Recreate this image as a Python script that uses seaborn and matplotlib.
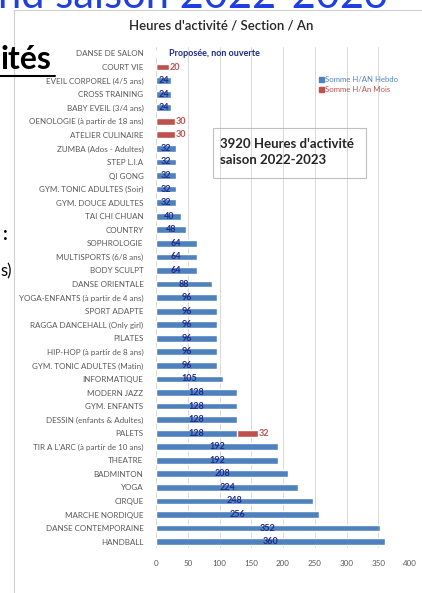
import numpy as np
import pandas as pd
import seaborn as sns
import matplotlib.pyplot as plt
from matplotlib.patches import Patch, Rectangle

# ----------------------------------------
# Data: hours of activity per section per year
# ----------------------------------------
sections = [
    "DANSE DE SALON", "COURT VIE", "EVEIL CORPOREL (4/5 ans)", "CROSS TRAINING",
    "BABY EVEIL (3/4 ans)", "OENOLOGIE (à partir de 18 ans)", "ATELIER CULINAIRE",
    "ZUMBA (Ados - Adultes)", "STEP L.I.A", "QI GONG", "GYM. TONIC ADULTES (Soir)",
    "GYM. DOUCE ADULTES", "TAI CHI CHUAN", "COUNTRY", "SOPHROLOGIE",
    "MULTISPORTS (6/8 ans)", "BODY SCULPT", "DANSE ORIENTALE",
    "YOGA-ENFANTS (à partir de 4 ans)", "SPORT ADAPTE", "RAGGA DANCEHALL (Only girl)",
    "PILATES", "HIP-HOP (à partir de 8 ans)", "GYM. TONIC ADULTES (Matin)",
    "INFORMATIQUE", "MODERN JAZZ", "GYM. ENFANTS", "DESSIN (enfants & Adultes)",
    "PALETS", "TIR A L'ARC (à partir de 10 ans)", "THEATRE", "BADMINTON", "YOGA",
    "CIRQUE", "MARCHE NORDIQUE", "DANSE CONTEMPORAINE", "HANDBALL",
]
hebdo = [0, 0, 24, 24, 24, 0, 0, 32, 32, 32, 32, 32, 40, 48, 64, 64, 64, 88,
         96, 96, 96, 96, 96, 96, 105, 128, 128, 128, 128, 192, 192, 208, 224,
         248, 256, 352, 360]
mois = [0, 20, 0, 0, 0, 30, 30, 0, 0, 0, 0, 0, 0, 0, 0, 0, 0, 0,
        0, 0, 0, 0, 0, 0, 0, 0, 0, 0, 32, 0, 0, 0, 0,
        0, 0, 0, 0]
x_ticks = [0, 50, 100, 150, 200, 250, 300, 350, 400]

df = pd.DataFrame({"section": sections, "hebdo": hebdo, "mois": mois})
df["total"] = df["hebdo"] + df["mois"]

BLUE = "#4F81BD"
RED = "#C0504D"
NAVY = "#1F2A8C"
GREY = "#595959"

sns.set_theme(style="white")
plt.rcParams["font.family"] = ["Lato", "DejaVu Sans"]

W, H = 422, 593
fig = plt.figure(figsize=(W / 100, H / 100), dpi=100)


def fx(x):
    return x / W


def fy(y):
    return 1 - y / H


# chart frame
fig.patches.append(Rectangle((fx(14), fy(600)), fx(430) - fx(14), fy(10) - fy(600),
                             transform=fig.transFigure, fill=False,
                             edgecolor="#D0D0D0", linewidth=0.8))

# axes placement
row = 13.56
top = 53.5 - row / 2
bottom = top + row * len(sections)
ax = fig.add_axes([fx(156), fy(bottom), (410 - 156) / W, (bottom - top) / H])

# stacked bars: total in red first, then blue on top
sns.barplot(data=df, x="total", y="section", color=RED, orient="h",
            width=0.5, saturation=1, ax=ax)
sns.barplot(data=df, x="hebdo", y="section", color=BLUE, orient="h",
            width=0.5, saturation=1, ax=ax)

# value labels
blue_labels = [str(v) if v > 0 else "" for v in hebdo]
ax.bar_label(ax.containers[1], labels=blue_labels, label_type="center",
             fontsize=6.5, fontweight="bold", color=NAVY)
red_labels = [str(m) if m > 0 else "" for m in mois]
ax.bar_label(ax.containers[0], labels=red_labels, label_type="edge", padding=0.5,
             fontsize=6.5, fontweight="bold", color=RED)

ax.text(21, 0, "Proposée, non ouverte", fontsize=6.5, fontweight="bold",
        color=NAVY, va="center", ha="left")

ax.set_xlim(0, 400)
ax.set_ylim(len(sections) - 0.5, -0.5)
ax.set_xticks(x_ticks)
ax.set_xlabel("")
ax.set_ylabel("")
ax.grid(axis="x", color="#D9D9D9", linewidth=0.7)
ax.set_axisbelow(True)
for s in ax.spines.values():
    s.set_visible(False)
ax.tick_params(axis="x", length=0, pad=8, labelsize=5.8, labelcolor=GREY)
ax.tick_params(axis="y", length=0, pad=9, labelsize=5.8, labelcolor=GREY)

# legend
handles = [Patch(color=BLUE, label="Somme H/AN Hebdo"),
           Patch(color=RED, label="Somme H/An Mois")]
fig.legend(handles=handles, loc="upper left", bbox_to_anchor=(fx(315), fy(72)),
           frameon=False, fontsize=5.6, labelcolor=[BLUE, RED],
           handlelength=0.6, handleheight=0.6, handletextpad=0.2,
           labelspacing=0.45, borderpad=0)

# text box
fig.text(fx(220), fy(152), "3920 Heures d'activité\nsaison 2022-2023",
         fontsize=9.5, fontweight="bold", color="#262626", ha="left", va="center",
         linespacing=1.35)
fig.patches.append(Rectangle((fx(213), fy(178)), fx(366) - fx(213), fy(128) - fy(178),
                             transform=fig.transFigure, fill=False,
                             edgecolor="#BFBFBF", linewidth=0.8))

# chart title
fig.text(fx(221), fy(25), "Heures d'activité / Section / An", fontsize=9.5,
         fontweight="semibold", color="#262626", ha="center", va="center")

# surrounding document text (partially visible)
fig.text(fx(-2), fy(8), "nd saison 2022-2023", fontsize=30, color="#1F3FE0",
         ha="left", va="baseline")
fig.text(fx(1), fy(69), "ités", fontsize=23, fontweight="bold", color="black",
         ha="left", va="baseline")
fig.add_artist(plt.Line2D([fx(0), fx(55)], [fy(76), fy(76)], color="black",
                          linewidth=1.5, transform=fig.transFigure))
fig.text(fx(3), fy(240), ":", fontsize=13, fontweight="bold", color="black",
         ha="left", va="baseline")
fig.text(fx(0), fy(276), "s)", fontsize=12, color="black", ha="left",
         va="baseline")

plt.savefig("out.png", dpi=100)
